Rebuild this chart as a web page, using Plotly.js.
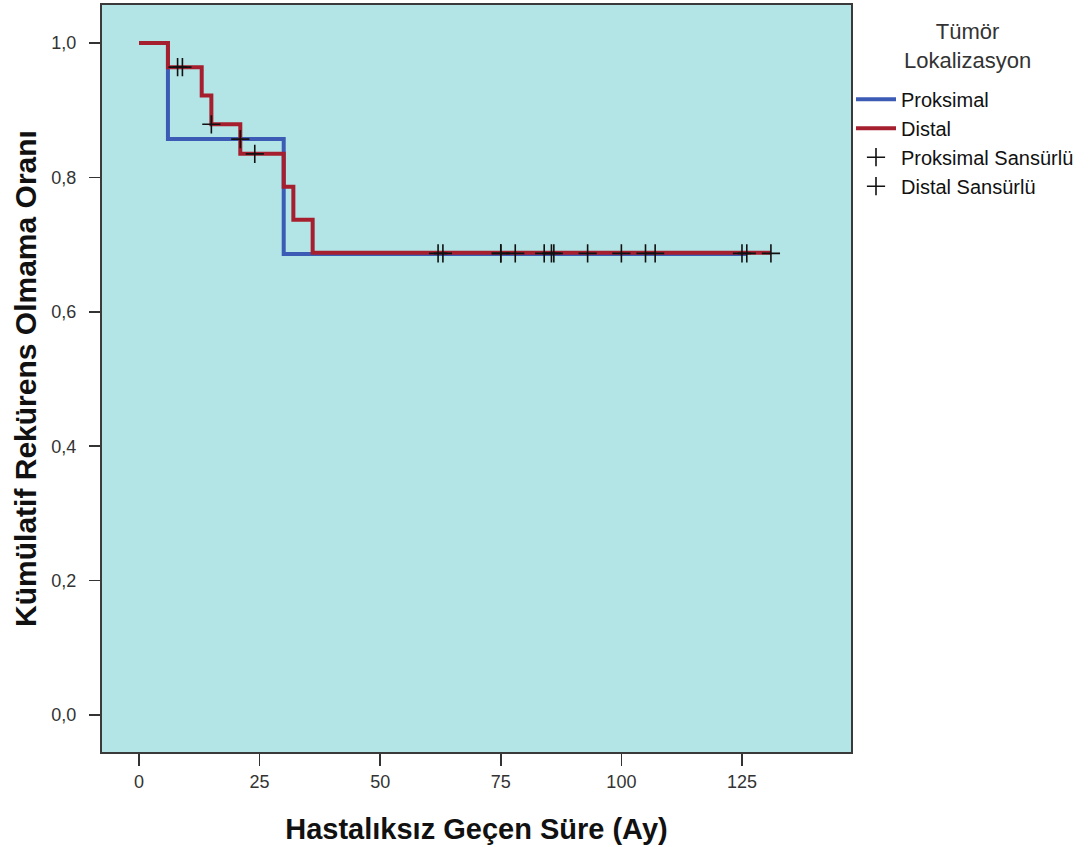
<!DOCTYPE html>
<html>
<head>
<meta charset="utf-8">
<script src="https://cdn.plot.ly/plotly-3.0.1.min.js"></script>
<style>html,body{margin:0;padding:0;background:#fff;}#chart{width:1090px;height:847px;}</style>
</head>
<body>
<div id="chart"></div>
<script>
// Kaplan-Meier step data (months, survival proportion)
const proxTimes = [0, 6, 30, 126];
const proxSurv  = [1.0, 0.857, 0.686, 0.686];
const distTimes = [0, 6, 13, 15, 21, 30, 32, 36, 131];
const distSurv  = [1.0, 0.964, 0.922, 0.879, 0.835, 0.786, 0.737, 0.688, 0.688];

// Censored observations
const proxCensTimes = [21, 63, 75, 86, 105, 126];
const proxCensSurv  = [0.857, 0.687, 0.687, 0.687, 0.687, 0.687];
const distCensTimes = [8, 9, 15, 24, 62, 75, 78, 84, 85.5, 93, 100, 107, 125, 131];
const distCensSurv  = [0.964, 0.964, 0.879, 0.835, 0.687, 0.687, 0.687, 0.687, 0.687, 0.687, 0.687, 0.687, 0.687, 0.687];

const xTicks = [0, 25, 50, 75, 100, 125];
const yTicks = [0.0, 0.2, 0.4, 0.6, 0.8, 1.0];

const names = ['Proksimal', 'Distal', 'Proksimal Sansürlü', 'Distal Sansürlü'];
const legendTitle = 'Tümör<br>Lokalizasyon';

const traces = [
  {x: proxTimes, y: proxSurv, name: names[0], mode: 'lines',
   line: {shape: 'hv', color: '#3c5bb4', width: 4}},
  {x: distTimes, y: distSurv, name: names[1], mode: 'lines',
   line: {shape: 'hv', color: '#a51f2e', width: 4}},
  {x: proxCensTimes, y: proxCensSurv, name: names[2], mode: 'markers',
   marker: {symbol: 'cross-thin', size: 13, color: '#111', line: {color: '#111', width: 1.6}}},
  {x: distCensTimes, y: distCensSurv, name: names[3], mode: 'markers',
   marker: {symbol: 'cross-thin', size: 13, color: '#111', line: {color: '#111', width: 1.6}}}
];

const layout = {
  width: 1090, height: 847,
  margin: {l: 102, r: 239, t: 5, b: 95},
  paper_bgcolor: '#ffffff',
  plot_bgcolor: '#b4e5e6',
  separators: ',.',
  font: {family: 'Liberation Sans, Arial, sans-serif', color: '#222'},
  xaxis: {
    range: [-7.67, 147.6],
    tickvals: xTicks,
    ticks: 'outside', ticklen: 12, tickwidth: 1.5, tickcolor: '#333',
    showgrid: false, zeroline: false,
    showline: true, mirror: true, linecolor: '#3a3a3a', linewidth: 2,
    tickfont: {size: 18, color: '#333'},
    title: {text: 'Hastalıksız Geçen Süre (Ay)', font: {size: 29, color: '#111', weight: 'bold'}, standoff: 28}
  },
  yaxis: {
    range: [-0.055, 1.0565],
    tickvals: yTicks,
    tickformat: '.1f',
    ticks: 'outside', ticklen: 11, tickwidth: 1.5, tickcolor: '#333',
    ticklabelstandoff: 9,
    showgrid: false, zeroline: false,
    showline: true, mirror: true, linecolor: '#3a3a3a', linewidth: 2,
    tickfont: {size: 18, color: '#333'},
    title: {text: 'Kümülatif Rekürens Olmama Oranı', font: {size: 30, color: '#111', weight: 'bold'}, standoff: 6}
  },
  showlegend: true,
  legend: {
    x: 1.0, y: 0.9, xanchor: 'left', yanchor: 'top',
    bgcolor: 'rgba(0,0,0,0)',
    font: {size: 20, color: '#111'},
    itemwidth: 40,
    tracegroupgap: 0
  },
  annotations: [{
    text: legendTitle, xref: 'paper', yref: 'paper',
    x: 1.155, y: 0.984, xanchor: 'center', yanchor: 'top',
    align: 'center', showarrow: false,
    font: {size: 22, color: '#333'}
  }]
};

Plotly.newPlot('chart', traces, layout, {staticPlot: true, displayModeBar: false});
</script>
</body>
</html>
